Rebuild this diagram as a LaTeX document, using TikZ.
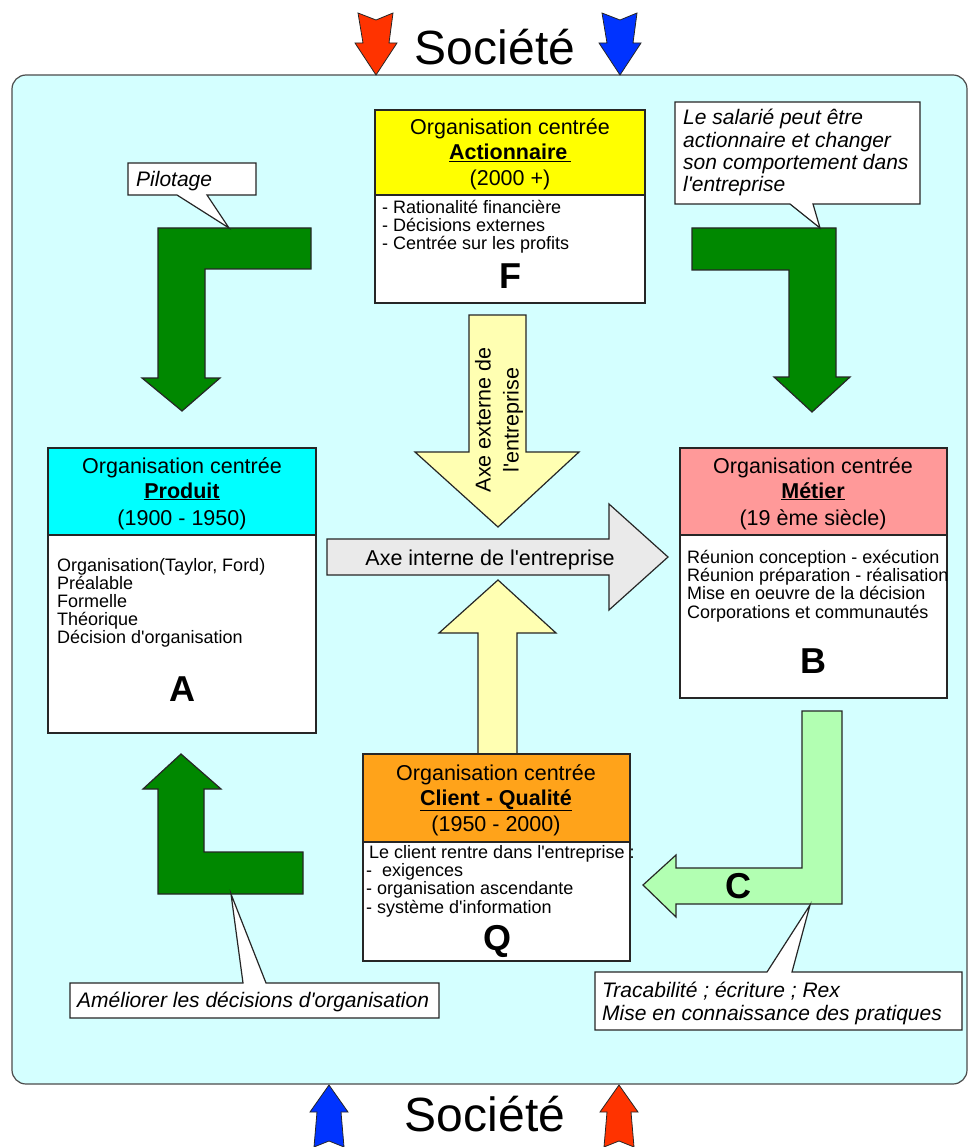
\documentclass[tikz,border=0pt]{standalone}
\usepackage{fontspec}
\setmainfont{Liberation Sans}[Ligatures=TeXOff]
\definecolor{bgc}{RGB}{212,255,255}
\definecolor{hdrF}{RGB}{255,255,0}
\definecolor{hdrA}{RGB}{0,255,255}
\definecolor{hdrB}{RGB}{255,153,153}
\definecolor{hdrQ}{RGB}{255,163,26}
\definecolor{dgreen}{RGB}{0,136,0}
\definecolor{lgreen}{RGB}{178,255,178}
\definecolor{lyellow}{RGB}{255,255,178}
\definecolor{lgray}{RGB}{234,234,234}
\definecolor{sred}{RGB}{255,51,0}
\definecolor{sblue}{RGB}{0,51,255}
\begin{document}
\begin{tikzpicture}[x=1pt,y=-1pt,
  outl/.style={draw=black!85, line width=1.2pt, line join=miter},
  hdr/.style={font=\fontsize{21.5}{24}\selectfont, inner sep=0, anchor=base},
  body/.style={font=\fontsize{18}{18}\selectfont, inner sep=0, anchor=base west},
  callt/.style={font=\fontsize{21}{22}\selectfont\itshape, inner sep=0, anchor=base west},
  letter/.style={font=\fontsize{36}{36}\selectfont\bfseries, inner sep=0, anchor=base},
  soc/.style={font=\fontsize{48}{48}\selectfont, inner sep=0, anchor=base},
  callout/.style={outl, fill=white}]
\useasboundingbox (0,0) rectangle (969,1147);

% background frame
\draw[fill=bgc, draw=black!70, line width=1.2pt, rounded corners=14pt] (12,75) rectangle (967,1084);

% Societe arrows
\draw[outl, line width=0.8pt, fill=sred]  (358,13) -- (376,20) -- (393,13) -- (389,43) -- (397,43) -- (376,75) -- (355,43) -- (363,43) -- cycle;
\draw[outl, line width=0.8pt, fill=sblue] (602,13) -- (620,20) -- (637,13) -- (633,43) -- (641,43) -- (620,75) -- (599,43) -- (607,43) -- cycle;
\draw[outl, line width=0.8pt, fill=sblue] (329,1085) -- (348,1112) -- (341,1112) -- (344,1147) -- (329,1141) -- (314,1147) -- (317,1112) -- (310,1112) -- cycle;
\draw[outl, line width=0.8pt, fill=sred]  (619,1085) -- (638,1112) -- (631,1112) -- (634,1147) -- (619,1141) -- (604,1147) -- (607,1112) -- (600,1112) -- cycle;
\node[soc] (soctop) at (495,65) {Société};
\node[soc] (socbot) at (485,1131) {Société};

% green bent arrows
\draw[outl, fill=dgreen] (311,228) -- (158,228) -- (158,378) -- (142,378) -- (182,411) -- (220,378) -- (205,378) -- (205,269) -- (311,269) -- cycle;
\draw[outl, fill=dgreen] (692,228) -- (836,228) -- (836,377) -- (850,377) -- (812,412) -- (774,377) -- (789,377) -- (789,270) -- (692,270) -- cycle;
\draw[outl, fill=dgreen] (181,754) -- (221,789) -- (204,789) -- (204,852) -- (303,852) -- (303,894) -- (158,894) -- (158,789) -- (143,789) -- cycle;
% light green C arrow
\draw[outl, fill=lgreen] (802,711) -- (842,711) -- (842,904) -- (676,904) -- (676,917) -- (643,885) -- (676,855) -- (676,868) -- (802,868) -- cycle;
\node[letter] (C) at (738,898) {C};

% axes
\draw[outl, fill=lyellow] (469,315) -- (526,315) -- (526,452) -- (579,452) -- (498,527) -- (415,452) -- (469,452) -- cycle;
\draw[outl, fill=lyellow] (498,580) -- (556,633) -- (517,633) -- (517,760) -- (478,760) -- (478,633) -- (439,633) -- cycle;
\draw[outl, fill=lgray] (327,539) -- (609,539) -- (609,504) -- (668,557) -- (609,610) -- (609,575) -- (327,575) -- cycle;
\node[font=\fontsize{21.5}{28}\selectfont, rotate=90, align=center, inner sep=0] (axeext) at (499,420) {Axe externe de\\l'entreprise};
\node[hdr] (axeint) at (490,565) {Axe interne de l'entreprise};

% Box F
\draw[outl, fill=hdrF] (375,110) rectangle (645,195);
\draw[outl, fill=white] (375,195) rectangle (645,303);
\node[hdr] (F1) at (510,135) {Organisation centrée};
\node[hdr] (F2) at (510,160) {\bfseries\underline{Actionnaire\,}};
\node[hdr] (F3) at (510,186) {(2000 +)};
\node[body] (Fb1) at (382,214) {- Rationalité financière};
\node[body] (Fb2) at (382,232) {- Décisions externes};
\node[body] (Fb3) at (382,250) {- Centrée sur les profits};
\node[letter] (F) at (510,288) {F};

% Box A
\draw[outl, fill=hdrA] (48,448) rectangle (316,535);
\draw[outl, fill=white] (48,535) rectangle (316,733);
\node[hdr] (A1) at (182,473) {Organisation centrée};
\node[hdr] (A2) at (182,498) {\bfseries\underline{Produit}};
\node[hdr] (A3) at (182,525) {(1900 - 1950)};
\node[body] (Ab1) at (57,571) {Organisation(Taylor, Ford)};
\node[body] (Ab2) at (57,589) {Préalable};
\node[body] (Ab3) at (57,607) {Formelle};
\node[body] (Ab4) at (57,625) {Théorique};
\node[body] (Ab5) at (57,643) {Décision d'organisation};
\node[letter] (A) at (182,701) {A};

% Box B
\draw[outl, fill=hdrB] (680,448) rectangle (947,535);
\draw[outl, fill=white] (680,535) rectangle (947,698);
\node[hdr] (B1) at (813,473) {Organisation centrée};
\node[hdr] (B2) at (813,498) {\bfseries\underline{Métier}};
\node[hdr] (B3) at (813,525) {(19 ème siècle)};
\node[body] (Bb1) at (687,563) {Réunion conception - exécution};
\node[body] (Bb2) at (687,581) {Réunion préparation - réalisation};
\node[body] (Bb3) at (687,599) {Mise en oeuvre de la décision};
\node[body] (Bb4) at (687,618) {Corporations et communautés};
\node[letter] (B) at (813,673) {B};

% Box Q
\draw[outl, fill=hdrQ] (363,754) rectangle (630,842);
\draw[outl, fill=white] (363,842) rectangle (630,961);
\node[hdr] (Q1) at (496,780) {Organisation centrée};
\node[hdr] (Q2) at (496,805) {\bfseries\underline{Client - Qualité}};
\node[hdr] (Q3) at (496,831) {(1950 - 2000)};
\node[body] (Qb1) at (369,858) {Le client rentre dans l'entreprise :};
\node[body] (Qb2) at (366,876) {-\ \ exigences};
\node[body] (Qb3) at (366,894) {- organisation ascendante};
\node[body] (Qb4) at (366,913) {- système d'information};
\node[letter] (Q) at (497,950) {Q};

% callouts
\draw[callout] (128,163) -- (256,163) -- (256,195) -- (207,195) -- (229,228) -- (177,195) -- (128,195) -- cycle;
\node[callt] (pil) at (136,187) {Pilotage};

\draw[callout] (675,102) -- (920,102) -- (920,204) -- (813,204) -- (820,228) -- (790,204) -- (675,204) -- cycle;
\node[callt] (sal1) at (683,125) {Le salarié peut être};
\node[callt] (sal2) at (683,148) {actionnaire et changer};
\node[callt] (sal3) at (683,170) {son comportement dans};
\node[callt] (sal4) at (683,192) {l'entreprise};

\draw[callout] (70,983) -- (243,983) -- (231,894) -- (266,983) -- (439,983) -- (439,1018) -- (70,1018) -- cycle;
\node[callt] (ame) at (77,1007) {Améliorer les décisions d'organisation};

\draw[callout] (595,972) -- (767,972) -- (810,905) -- (792,972) -- (962,972) -- (962,1030) -- (595,1030) -- cycle;
\node[callt] (tra1) at (602,997) {Tracabilité ; écriture ; Rex};
\node[callt] (tra2) at (602,1020) {Mise en connaissance des pratiques};
\end{tikzpicture}
\end{document}
